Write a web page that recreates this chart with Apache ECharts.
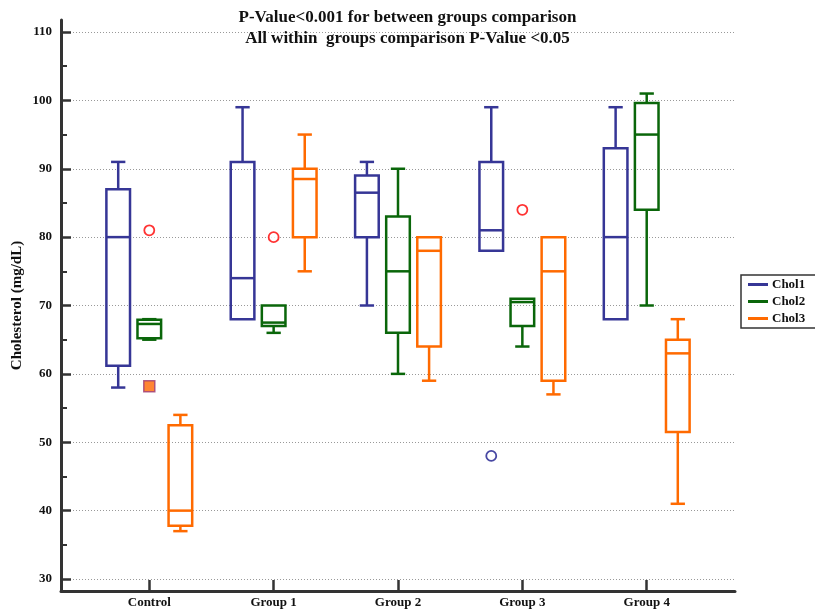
<!DOCTYPE html>
<html>
<head>
<meta charset="utf-8">
<script src="https://cdn.jsdelivr.net/npm/echarts@6/dist/echarts.min.js"></script>
<style>html,body{margin:0;padding:0;background:#fff;}#chart{width:815px;height:609px;}</style>
</head>
<body>
<div id="chart"></div>
<script>
// ---- data ----
const categories = ['Control', 'Group 1', 'Group 2', 'Group 3', 'Group 4'];
const seriesNames = ['Chol1', 'Chol2', 'Chol3'];
// [min, Q1, median, Q3, max] for each group
const chol1 = [[58, 61.2, 80, 87, 91], [68, 68, 74, 91, 99], [70, 80, 86.5, 89, 91], [78, 78, 81, 91, 99], [68, 68, 80, 93, 99]];
const chol2 = [[65, 65.2, 67.3, 67.9, 68], [66, 67, 67.5, 70, 70], [60, 66, 75, 83, 90], [64, 67, 70.5, 71, 71], [70, 84, 95, 99.6, 101]];
const chol3 = [[37, 37.8, 40, 52.5, 54], [75, 80, 88.5, 90, 95], [59, 64, 78, 80, 80], [57, 59, 75, 80, 80], [41, 51.5, 63, 65, 68]];
// outliers: [groupIndex, value]
const redOutliers = [[0, 81], [1, 80], [3, 84]];      // drawn at the middle slot
const chol1Outliers = [[3, 48]];
const farOutliers = [[0, 58.2]];                        // middle slot
const yTicks = [30, 40, 50, 60, 70, 80, 90, 100, 110];
const titleLines = ['P-Value<0.001 for between groups comparison', 'All within  groups comparison P-Value <0.05'];

// ---- styling ----
const colors = ['#363696', '#0a660a', '#ff6a00'];
const slotOffsets = [-0.25, 0, 0.25];
const boxW = 0.19, capW = 0.115;
const serif = "'Liberation Serif', 'DejaVu Serif', serif";
const axisColor = '#333';

function makeRender(slot) {
  return function (params, api) {
    const xv = api.value(0) + slotOffsets[slot];
    const pMin = api.coord([xv, api.value(1)]);
    const pQ1 = api.coord([xv, api.value(2)]);
    const pMed = api.coord([xv, api.value(3)]);
    const pQ3 = api.coord([xv, api.value(4)]);
    const pMax = api.coord([xv, api.value(5)]);
    const half = api.size([boxW, 0])[0] / 2;
    const capHalf = api.size([capW, 0])[0] / 2;
    const cx = pMed[0];
    const st = { stroke: colors[slot], lineWidth: 2.5, fill: null };
    const children = [];
    if (Math.abs(pMax[1] - pQ3[1]) > 0.5) {
      children.push({ type: 'line', shape: { x1: cx, y1: pQ3[1], x2: cx, y2: pMax[1] }, style: st });
      children.push({ type: 'line', shape: { x1: cx - capHalf, y1: pMax[1], x2: cx + capHalf, y2: pMax[1] }, style: st });
    }
    if (Math.abs(pMin[1] - pQ1[1]) > 0.5) {
      children.push({ type: 'line', shape: { x1: cx, y1: pQ1[1], x2: cx, y2: pMin[1] }, style: st });
      children.push({ type: 'line', shape: { x1: cx - capHalf, y1: pMin[1], x2: cx + capHalf, y2: pMin[1] }, style: st });
    }
    children.push({ type: 'rect', shape: { x: cx - half, y: pQ3[1], width: half * 2, height: pQ1[1] - pQ3[1] }, style: st });
    children.push({ type: 'line', shape: { x1: cx - half, y1: pMed[1], x2: cx + half, y2: pMed[1] }, style: st });
    return { type: 'group', children: children };
  };
}

const boxData = [chol1, chol2, chol3];
const series = seriesNames.map((name, i) => ({
  name: name,
  type: 'custom',
  xAxisIndex: 1,
  yAxisIndex: 1,
  itemStyle: { color: colors[i] },
  renderItem: makeRender(i),
  encode: { x: 0, y: [1, 2, 3, 4, 5] },
  data: boxData[i].map((d, g) => [g + 1].concat(d)),
  z: 3
}));
series.push({
  name: 'outlierRed', type: 'scatter', xAxisIndex: 1, yAxisIndex: 1,
  symbol: 'circle', symbolSize: 10,
  itemStyle: { color: '#fff', borderColor: '#ff0000', borderWidth: 1.8 },
  data: redOutliers.map(d => [d[0] + 1 + slotOffsets[1], d[1]]), z: 4
});
series.push({
  name: 'outlierChol1', type: 'scatter', xAxisIndex: 1, yAxisIndex: 1,
  symbol: 'circle', symbolSize: 10,
  itemStyle: { color: '#fff', borderColor: '#1a1a8c', borderWidth: 1.8 },
  data: chol1Outliers.map(d => [d[0] + 1 + slotOffsets[0], d[1]]), z: 4
});
series.push({
  name: 'outlierFar', type: 'scatter', xAxisIndex: 1, yAxisIndex: 1,
  symbol: 'rect', symbolSize: 11,
  itemStyle: { color: '#ff6600', borderColor: '#9c3a74', borderWidth: 1.5 },
  data: farOutliers.map(d => [d[0] + 1 + slotOffsets[1], d[1]]), z: 4
});

const xMin = 0.29, xMax = 5.71;
const option = {
  animation: false,
  backgroundColor: '#fff',
  title: {
    text: titleLines.join('\n'),
    left: 'center', top: 2,
    textStyle: { fontFamily: serif, fontWeight: 'bold', fontSize: 17, lineHeight: 21, color: '#111' }
  },
  legend: {
    orient: 'vertical', left: 741, top: 275,
    data: seriesNames.map(n => ({ name: n, icon: 'rect' })),
    itemWidth: 20, itemHeight: 3, itemGap: 4,
    padding: [3, 16, 3, 7],
    borderColor: '#333', borderWidth: 1.5,
    textStyle: { fontFamily: serif, fontWeight: 'bold', fontSize: 13, color: '#111', padding: [0, 0, 0, -1] }
  },
  grid: [
    { left: 61, right: 80, top: 20, bottom: 18 },
    { left: 61, right: 80, top: 32, bottom: 30 }
  ],
  xAxis: [
    {
      gridIndex: 0, type: 'value', min: xMin, max: xMax,
      axisLine: { show: true, onZero: false, lineStyle: { color: axisColor, width: 3 } },
      axisTick: { show: true, inside: true, length: 11, customValues: [1, 2, 3, 4, 5], lineStyle: { color: axisColor, width: 2.5 } },
      axisLabel: {
        show: true, customValues: [1, 2, 3, 4, 5], margin: 5,
        formatter: v => categories[Math.round(v) - 1] || '',
        fontFamily: serif, fontWeight: 'bold', fontSize: 13, color: '#111'
      },
      splitLine: { show: false }
    },
    {
      gridIndex: 1, type: 'value', min: xMin, max: xMax, show: false
    }
  ],
  yAxis: [
    {
      gridIndex: 0, type: 'value', min: 28.25, max: 111.75,
      axisLine: { show: true, onZero: false, lineStyle: { color: axisColor, width: 3 } },
      axisTick: { show: false }, axisLabel: { show: false }, splitLine: { show: false }
    },
    {
      gridIndex: 1, type: 'value', min: yTicks[0], max: yTicks[yTicks.length - 1], interval: 10,
      name: 'Cholesterol (mg/dL)', nameLocation: 'middle', nameGap: 36, nameMoveOverlap: false,
      nameTextStyle: { fontFamily: serif, fontWeight: 'bold', fontSize: 15, color: '#111' },
      axisLine: { show: false },
      axisTick: { show: true, inside: true, length: 10, lineStyle: { color: axisColor, width: 2.5 } },
      minorTick: { show: true, splitNumber: 2, length: 6, lineStyle: { color: axisColor, width: 2 } },
      axisLabel: { margin: 9, fontFamily: serif, fontWeight: 'bold', fontSize: 13, color: '#111' },
      splitLine: { show: true, lineStyle: { color: '#999999', type: [1, 2], width: 1 } }
    }
  ],
  series: series
};

const chart = echarts.init(document.getElementById('chart'), null, { renderer: 'canvas' });
chart.setOption(option);
</script>
</body>
</html>
